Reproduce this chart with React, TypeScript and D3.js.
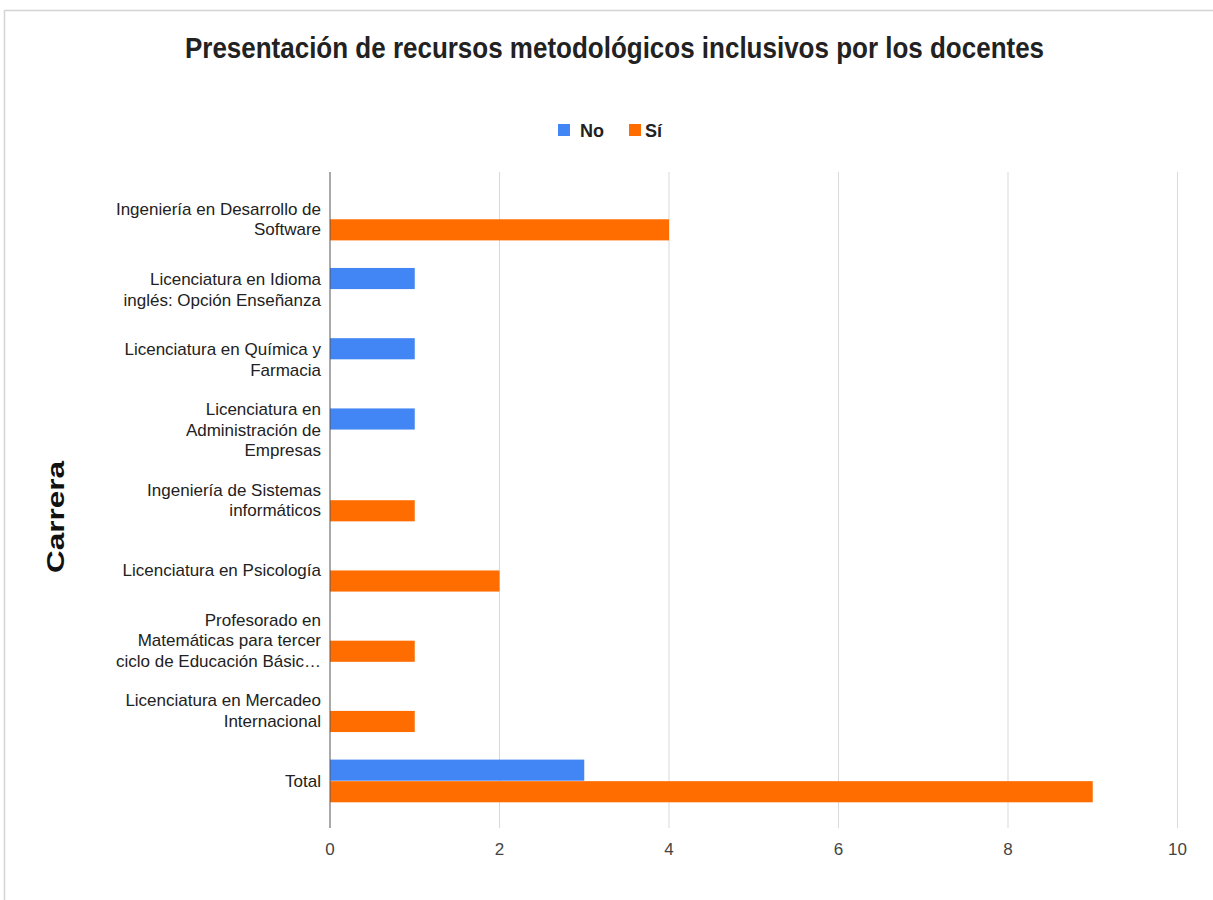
import React from "react";
import * as d3 from "d3";

const categories: string[][] = [
  ["Ingeniería en Desarrollo de", "Software"],
  ["Licenciatura en Idioma", "inglés: Opción Enseñanza"],
  ["Licenciatura en Química y", "Farmacia"],
  ["Licenciatura en", "Administración de", "Empresas"],
  ["Ingeniería de Sistemas", "informáticos"],
  ["Licenciatura en Psicología"],
  ["Profesorado en", "Matemáticas para tercer", "ciclo de Educación Básic…"],
  ["Licenciatura en Mercadeo", "Internacional"],
  ["Total"],
];
const seriesNames = ["No", "Sí"];
const noValues = [0, 1, 1, 1, 0, 0, 0, 0, 3];
const siValues = [4, 0, 0, 0, 1, 2, 1, 1, 9];
const xTicks = [0, 2, 4, 6, 8, 10];
const colors = ["#4285F4", "#FF6D01"];
const title = "Presentación de recursos metodológicos inclusivos por los docentes";
const yTitle = "Carrera";

const FONT = "'Liberation Sans', Arial, sans-serif";

export default function App() {
  const W = 1213, H = 900;
  const left = 330, right = 1177.5, top = 172, bottom = 828;
  const keys = categories.map((_, i) => String(i));
  const x = d3.scaleLinear().domain([0, 10]).range([left, right]);
  const y = d3.scaleBand().domain(keys).range([top, bottom]).paddingInner(0.38).paddingOuter(0.36);
  const sub = d3.scaleBand().domain(seriesNames).range([0, y.bandwidth()]).padding(0.02);
  const series = [noValues, siValues];

  return (
    <svg width={W} height={H} style={{ position: "absolute", left: 0, top: 0, background: "#fff" }} fontFamily={FONT}>
      <rect x={0} y={0} width={W} height={H} fill="#fff" />
      <rect x={4.5} y={10.5} width={W + 20} height={H + 20} fill="none" stroke="#d4d4d4" strokeWidth={1.5} />
      <text transform={`translate(${W / 2 + 8},58) scale(1,1.15)`} textAnchor="middle" fontSize={26} fontWeight="bold" fill="#222">
        {title}
      </text>
      {/* legend */}
      <g>
        <rect x={558} y={124} width={12} height={12} fill={colors[0]} />
        <text x={580} y={137} fontSize={18} fontWeight="bold" fill="#222">{seriesNames[0]}</text>
        <rect x={629} y={124} width={12} height={12} fill={colors[1]} />
        <text x={645} y={137} fontSize={18} fontWeight="bold" fill="#222">{seriesNames[1]}</text>
      </g>
      {/* gridlines */}
      {xTicks.filter((t) => t !== 0).map((t) => (
        <line key={t} x1={x(t)} x2={x(t)} y1={top} y2={bottom} stroke="#d9d9d9" strokeWidth={1} />
      ))}
      {/* bars */}
      {series.map((vals, si) =>
        vals.map((v, i) =>
          v > 0 ? (
            <rect key={`${si}-${i}`} x={x(0)} y={(y(keys[i]) as number) + (sub(seriesNames[si]) as number)}
              width={x(v) - x(0)} height={sub.bandwidth()} fill={colors[si]} />
          ) : null
        )
      )}
      {/* zero axis */}
      <line x1={x(0)} x2={x(0)} y1={top} y2={bottom} stroke="#555" strokeWidth={1} />
      {/* x tick labels */}
      {xTicks.map((t) => (
        <text key={t} x={x(t)} y={855} textAnchor="middle" fontSize={17} fill="#444">{t}</text>
      ))}
      {/* category labels */}
      {categories.map((lines, i) => {
        const c = (y(keys[i]) as number) + y.bandwidth() / 2;
        const lh = 20.5;
        const first = c - ((lines.length - 1) * lh) / 2 + 6;
        return (
          <text key={i} textAnchor="end" fontSize={17} fill="#222">
            {lines.map((ln, j) => (
              <tspan key={j} x={321} y={first + j * lh}>{ln}</tspan>
            ))}
          </text>
        );
      })}
      {/* y axis title */}
      <text transform="translate(64,517) rotate(-90)" textAnchor="middle" fontSize={24} fontWeight="bold" fill="#111"
        textLength={112} lengthAdjust="spacingAndGlyphs">
        {yTitle}
      </text>
    </svg>
  );
}
